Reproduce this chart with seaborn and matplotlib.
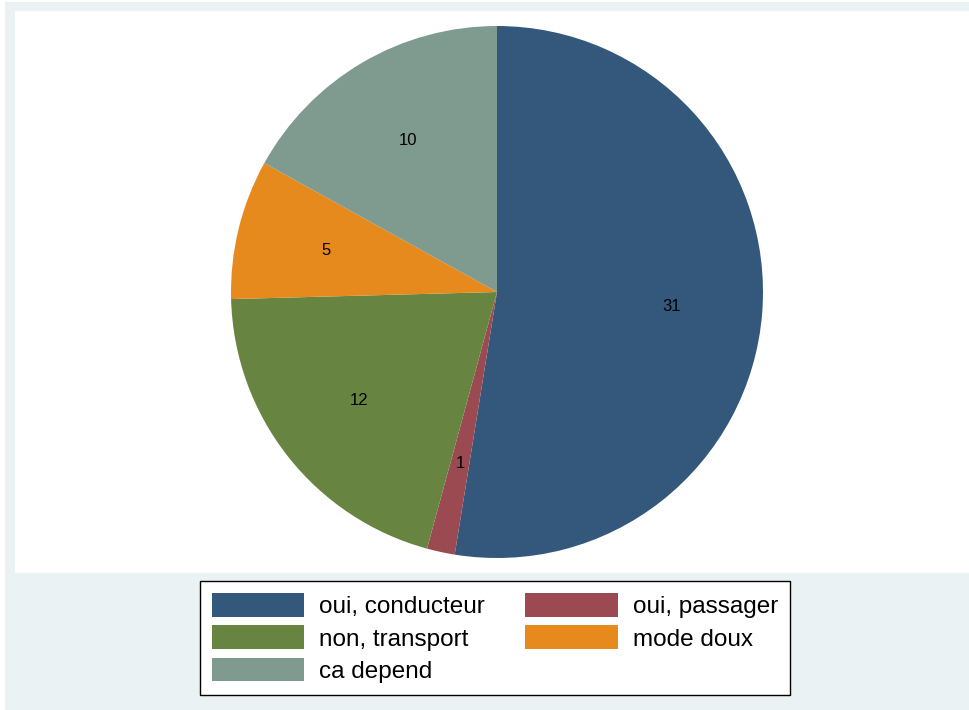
import matplotlib
matplotlib.use("Agg")
import matplotlib.pyplot as plt
from matplotlib.patches import Rectangle, Patch
import seaborn as sns

categories = ["oui, conducteur", "oui, passager", "non, transport", "mode doux", "ca depend"]
counts = [31, 1, 12, 5, 10]
colors = ["#33587c", "#9c4a51", "#678541", "#e68a1e", "#7f9a8e"]

sns.set_style("white")
plt.rcParams['font.family'] = ['Liberation Sans', 'DejaVu Sans']
plt.rcParams['text.color'] = 'black'

W, H = 970, 710
fig = plt.figure(figsize=(W / 100, H / 100), dpi=100)
fig.patch.set_facecolor("white")

# light outer background, like Stata's graph region
fig.add_artist(Rectangle((5 / W, 0), 1 - 5 / W, 1 - 2 / H, transform=fig.transFigure,
                         facecolor="#eaf2f3", edgecolor="none", zorder=0))

# plot region in pixels
left, right, top, bottom = 15, 970, 11, 573
ax = fig.add_axes([left / W, 1 - bottom / H, (right - left) / W, (bottom - top) / H])
ax.set_facecolor("white")

palette = sns.color_palette(colors)
wedges, texts = ax.pie(counts, colors=palette, startangle=90, counterclock=False,
                       labels=[str(c) for c in counts], labeldistance=0.66,
                       wedgeprops=dict(linewidth=0, edgecolor="none"),
                       textprops=dict(fontsize=12, color="black", ha="center", va="center"))

# pie center and radius in pixels, keep the circle round
cx, cy, r = 497, 292, 266
upp = 1.0 / r
ax.set_xlim(-(cx - left) * upp, (right - cx) * upp)
ax.set_ylim(-(bottom - cy) * upp, (cy - top) * upp)
ax.set_aspect("auto")
ax.axis("off")
ax.add_patch(Rectangle((0, 0), 1, 1, transform=ax.transAxes, facecolor="white",
                       edgecolor="none", zorder=-1))

# legend, filled row by row in two columns
order = [0, 2, 4, 1, 3]
handles = [Patch(facecolor=palette[i], edgecolor="none") for i in order]
labels = [categories[i] for i in order]
leg = fig.legend(handles, labels, loc="center", bbox_to_anchor=(495 / W, 1 - 638 / H),
                 ncol=2, fontsize=17.5, frameon=True, fancybox=False, edgecolor="black",
                 facecolor="white", framealpha=1, labelcolor="black",
                 handlelength=3.8, handleheight=1.12, handletextpad=0.62,
                 columnspacing=1.65, labelspacing=0.3, borderpad=0.5)
leg.get_frame().set_linewidth(1.0)

fig.savefig("out.png", dpi=100, facecolor=fig.get_facecolor())
